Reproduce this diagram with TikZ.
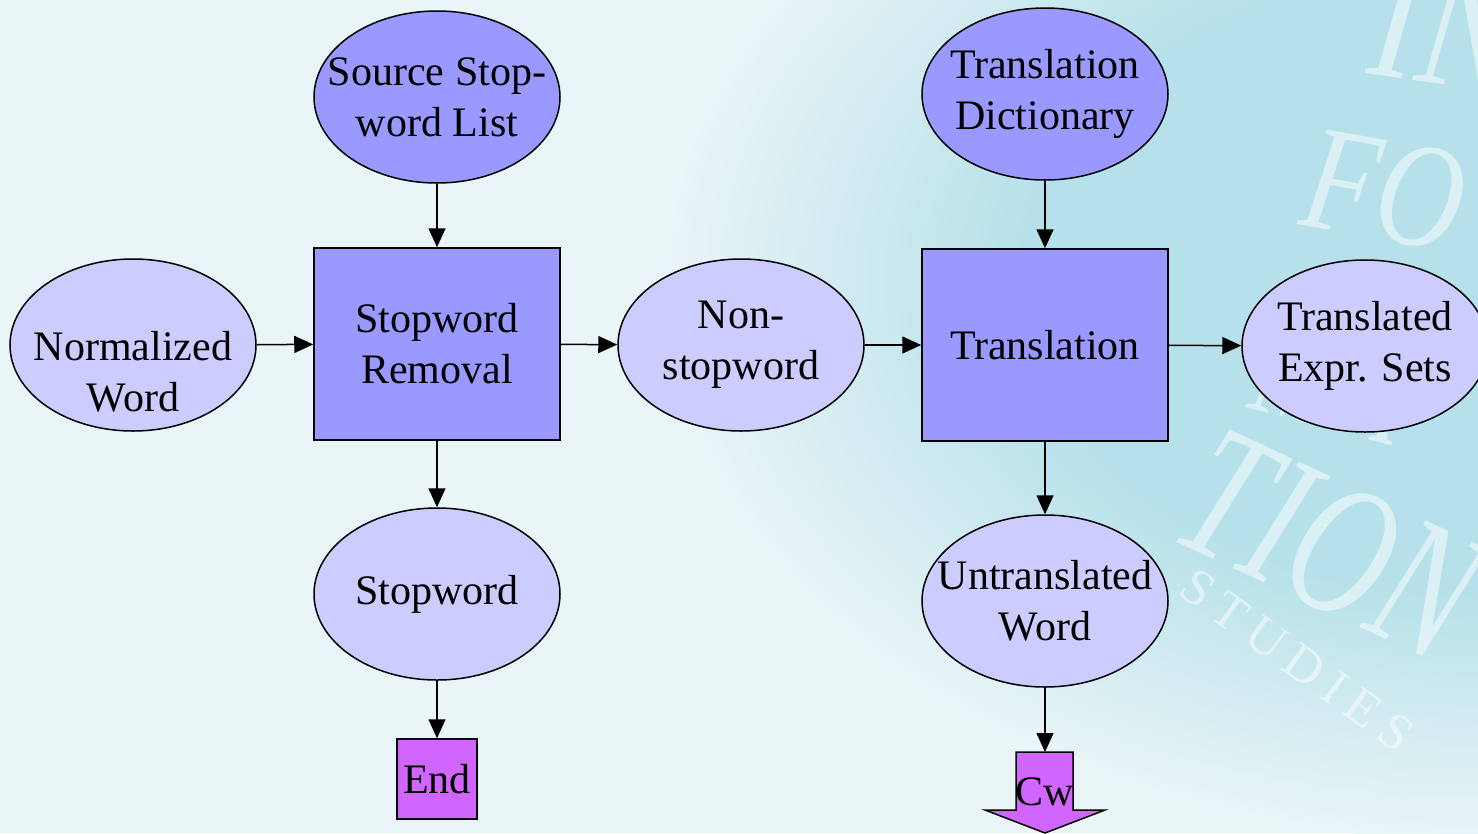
\documentclass[tikz,border=0pt]{standalone}
\usepackage{fontspec}
\setmainfont{Liberation Serif}
\usetikzlibrary{shapes.geometric,arrows.meta}
\definecolor{bgpale}{HTML}{EAF5F7}
\definecolor{bgcyan}{HTML}{B7E1EA}
\definecolor{procfill}{HTML}{9999FF}
\definecolor{datafill}{HTML}{CCCCFF}
\definecolor{termfill}{HTML}{D166FF}
% soft cyan glow behind the right half of the slide
\pgfdeclareradialshading{glow}{\pgfpoint{0bp}{0bp}}{color(0bp)=(bgcyan); color(14bp)=(bgcyan); color(25bp)=(bgpale); color(50bp)=(bgpale)}
\begin{document}
\begin{tikzpicture}[x=1pt,y=-1pt,line width=1.5pt,
  txt/.style={font=\fontsize{42}{51}\selectfont, align=center, text=black},
  store/.style={txt, ellipse, draw=black, fill=procfill, minimum width=246pt, minimum height=172pt, inner sep=-40pt},
  datum/.style={store, fill=datafill},
  proc/.style={txt, rectangle, draw=black, fill=procfill, minimum width=246pt, minimum height=192pt, inner sep=0pt},
  flow/.style={-{Triangle[length=19pt,width=17pt]}, line width=1.5pt},
  wmark/.style={text=white, opacity=0.5, inner sep=0pt, font=\fontsize{#1}{#1}\selectfont\itshape},
]
\useasboundingbox (0,0) rectangle (1478,833);
\begin{scope}
\clip (0,0) rectangle (1478,833);
\fill[bgpale] (0,0) rectangle (1478,833);
\shade[shading=glow] (1480,280) ellipse (820 and 560);
% watermark lettering
\node[wmark=180, rotate=-8] (wmA) at (1445,25) {\scalebox{0.8}[1]{IN}};
\node[wmark=150, rotate=-10] (wmB) at (1385,190) {\scalebox{0.8}[1]{FO}};
\node[wmark=130, rotate=-15] (wmC) at (1330,385) {\scalebox{0.8}[1]{MA}};
\node[wmark=190, rotate=-25] (wmD) at (1330,545) {\scalebox{0.7}[1]{TION}};
\node[wmark=52, rotate=-36, font=\fontsize{52}{52}\selectfont\upshape] (wmE) at (1297,660) {S\hspace{10pt}T\hspace{10pt}U\hspace{10pt}D\hspace{10pt}I\hspace{10pt}E\hspace{10pt}S};

% nodes
\node[store] (srclist) at (437,97) {Source Stop-\\word List};
\node[datum, label={[txt, yshift=-27pt]center:Normalized\\Word}] (normword) at (133,345) {};
\node[proc] (removal) at (437,344) {Stopword\\Removal};
\node[datum] (nonstop) at (741,345) {Non-\\stopword};
\node[store] (dict) at (1045,94) {Translation\\Dictionary};
\node[proc] (translate) at (1045,345) {Translation};
\node[datum] (exprsets) at (1365,346) {Translated\\Expr. Sets};
\node[datum] (stopword) at (437,594) {Stopword};
\node[datum] (untrans) at (1045,601) {Untranslated\\Word};
\node[txt, rectangle, draw=black, fill=termfill, minimum size=80pt, inner sep=0pt] (endbox) at (437,779) {End};

% down-arrow terminal
\draw[fill=termfill] (1016,752) -- (1073,752) -- (1073,810) -- (1105,810) -- (1045,833) -- (985,810) -- (1016,810) -- cycle;
\coordinate (cwtop) at (1045,752);
\node[txt, inner sep=0pt] (cw) at (1045,792) {Cw};

% connectors
\draw[flow] (srclist) -- (removal);
\draw[flow] (normword) -- (removal);
\draw[flow] (removal) -- (nonstop);
\draw[flow] (nonstop) -- (translate);
\draw[flow] (dict) -- (translate);
\draw[flow] (translate) -- (exprsets);
\draw[flow] (removal) -- (stopword);
\draw[flow] (stopword) -- (endbox);
\draw[flow] (translate) -- (untrans);
\draw[flow] (untrans) -- (cwtop);
\end{scope}
\end{tikzpicture}
\end{document}
